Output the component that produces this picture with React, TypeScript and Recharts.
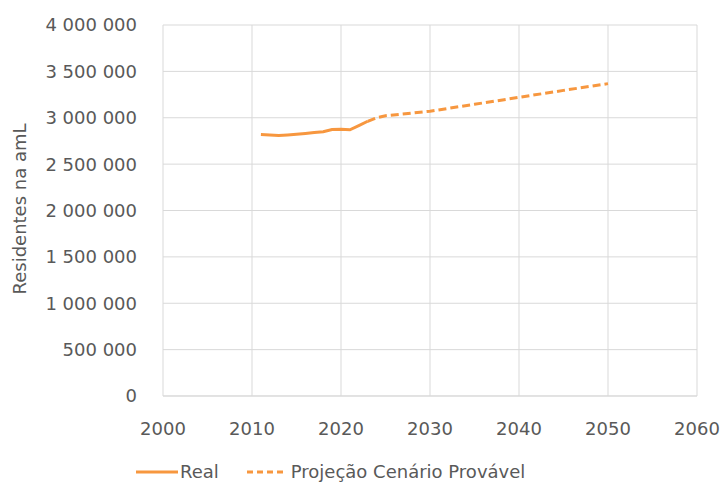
import { LineChart, Line, XAxis, YAxis, CartesianGrid } from 'recharts';

const years = [2011, 2012, 2013, 2014, 2015, 2016, 2017, 2018, 2019, 2020, 2021, 2022, 2023, 2024, 2025, 2030, 2035, 2040, 2045, 2050];
const real = [2820000, 2815000, 2810000, 2815000, 2822000, 2830000, 2840000, 2850000, 2873000, 2875000, 2870000, 2915000, 2962000, null, null, null, null, null, null, null];
const projecao = [null, null, null, null, null, null, null, null, null, null, null, null, 2962000, 3000000, 3022000, 3070000, 3145000, 3220000, 3295000, 3368000];

const xTicks = [2000, 2010, 2020, 2030, 2040, 2050, 2060];
const yTicks = [0, 500000, 1000000, 1500000, 2000000, 2500000, 3000000, 3500000, 4000000];
const yTickLabels = ['0', '500 000', '1 000 000', '1 500 000', '2 000 000', '2 500 000', '3 000 000', '3 500 000', '4 000 000'];

const data = years.map((year, i) => ({ year, real: real[i], projecao: projecao[i] }));

const ORANGE = '#f7973f';
const TEXT = '#595959';
const FONT = '"DejaVu Sans", sans-serif';

// legend drawn as plain html under the plot, recharts Legend would steal plot height
const ChartLegend = () => (
  <div
    style={{
      position: 'absolute',
      left: 136,
      top: 461,
      display: 'flex',
      alignItems: 'center',
      fontFamily: FONT,
      fontSize: 18,
      color: TEXT,
      whiteSpace: 'nowrap',
    }}
  >
    <svg width={42} height={10}>
      <line x1={0} y1={5} x2={42} y2={5} stroke={ORANGE} strokeWidth={3} />
    </svg>
    <span style={{ marginLeft: 2 }}>Real</span>
    <svg width={40} height={10} style={{ marginLeft: 28 }}>
      <line x1={0} y1={5} x2={40} y2={5} stroke={ORANGE} strokeWidth={3} strokeDasharray="6 4" />
    </svg>
    <span style={{ marginLeft: 4 }}>Projeção Cenário Provável</span>
  </div>
);

export default function App() {
  return (
    <div style={{ position: 'absolute', left: 0, top: 0, width: 723, height: 486, background: '#fff' }}>
      <LineChart width={723} height={486} data={data} margin={{ top: 25, right: 26, left: 0, bottom: 60 }}>
        <CartesianGrid stroke="#d9d9d9" strokeWidth={1} />
        <XAxis
          dataKey="year"
          type="number"
          domain={[2000, 2060]}
          ticks={xTicks}
          height={30}
          tick={{ fill: TEXT, fontSize: 18, fontFamily: FONT }}
          axisLine={{ stroke: '#d9d9d9' }}
          tickLine={false}
          tickSize={0}
          tickMargin={26}
        />
        <YAxis
          width={163}
          domain={[0, 4000000]}
          ticks={yTicks}
          tickFormatter={(v: number) => yTickLabels[yTicks.indexOf(v)]}
          tick={{ fill: TEXT, fontSize: 18, fontFamily: FONT }}
          axisLine={false}
          tickLine={false}
          tickSize={0}
          tickMargin={26}
          label={{
            content: () => (
              <text
                x={19}
                y={209}
                transform="rotate(-90 19 209)"
                textAnchor="middle"
                dominantBaseline="central"
                fill={TEXT}
                fontSize={18}
                fontFamily={FONT}
              >
                Residentes na amL
              </text>
            ),
          }}
        />
        <Line
          type="linear"
          dataKey="real"
          name="Real"
          stroke={ORANGE}
          strokeWidth={3}
          dot={false}
          isAnimationActive={false}
        />
        <Line
          type="linear"
          dataKey="projecao"
          name="Projeção Cenário Provável"
          stroke={ORANGE}
          strokeWidth={3}
          strokeDasharray="8 4"
          dot={false}
          isAnimationActive={false}
        />
      </LineChart>
      <ChartLegend />
    </div>
  );
}
